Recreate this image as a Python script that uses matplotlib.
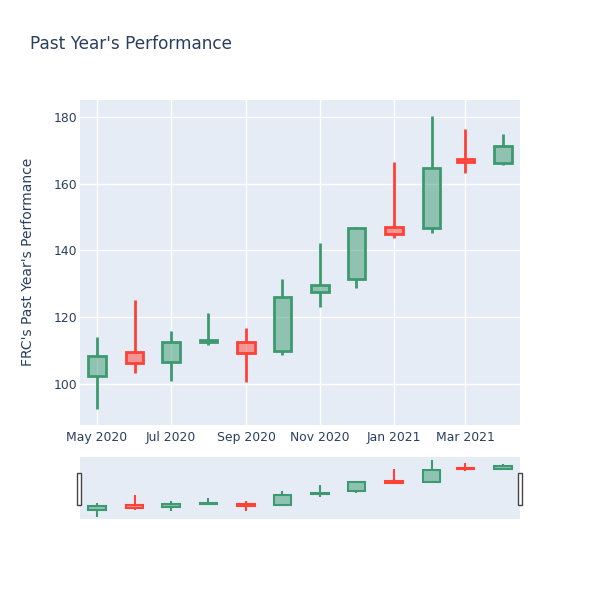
import numpy as np
import matplotlib
matplotlib.use("Agg")
from matplotlib import pyplot as plt
from matplotlib.patches import Rectangle
import matplotlib.dates as mdates
import datetime as dt

plt.rcParams['font.family'] = ['DejaVu Sans']

# monthly OHLC values
dates = ["2020-05-01", "2020-06-01", "2020-07-01", "2020-08-01", "2020-09-01", "2020-10-01",
         "2020-11-01", "2020-12-01", "2021-01-01", "2021-02-01", "2021-03-01", "2021-04-01"]
opens = [102.3, 109.6, 106.6, 112.6, 112.4, 109.9, 127.6, 131.4, 147.1, 146.6, 167.5, 166.3]
highs = [114.1, 125.1, 115.9, 121.1, 116.7, 131.5, 142.1, 147.0, 166.6, 180.3, 176.3, 174.8]
lows = [92.3, 103.1, 100.9, 111.6, 100.6, 108.6, 123.1, 128.6, 143.6, 145.1, 163.3, 165.5]
closes = [108.3, 106.1, 112.4, 113.1, 109.1, 126.1, 129.6, 146.8, 144.9, 164.6, 166.6, 171.4]

xticks = ["2020-05-01", "2020-07-01", "2020-09-01", "2020-11-01", "2021-01-01", "2021-03-01"]
xticklabels = ["May 2020", "Jul 2020", "Sep 2020", "Nov 2020", "Jan 2021", "Mar 2021"]
yticks = [100, 120, 140, 160, 180]

UP = '#3D9970'
DOWN = '#FF4136'
BG = '#E5ECF6'
TXT = '#2a3f5f'

def tonum(s):
    return mdates.date2num(dt.datetime.strptime(s, "%Y-%m-%d"))

x = np.array([tonum(d) for d in dates])
xmin, xmax = tonum("2020-04-17"), tonum("2021-04-15")


def candles(ax, lw, width=14.3):
    for xi, o, h, l, c in zip(x, opens, highs, lows, closes):
        col = UP if c >= o else DOWN
        lo, hi = min(o, c), max(o, c)
        ax.plot([xi, xi], [l, lo], color=col, lw=lw, solid_capstyle='butt', zorder=3)
        ax.plot([xi, xi], [hi, h], color=col, lw=lw, solid_capstyle='butt', zorder=3)
        ax.add_patch(Rectangle((xi - width / 2, lo), width, hi - lo,
                               facecolor=col, alpha=0.5, edgecolor='none', zorder=3))
        ax.add_patch(Rectangle((xi - width / 2, lo), width, hi - lo,
                               facecolor='none', edgecolor=col, lw=lw, zorder=4))


fig = plt.figure(figsize=(6, 6), dpi=100)

ax = fig.add_axes([80 / 600, 1 - 425 / 600, 440 / 600, 325 / 600])
ax.set_facecolor(BG)
candles(ax, 2)
ax.set_xlim(xmin, xmax)
ax.set_ylim(87.6, 185.1)
ax.set_xticks([tonum(d) for d in xticks])
ax.set_xticklabels(xticklabels)
ax.set_yticks(yticks)
ax.grid(color='white', lw=1)
ax.set_axisbelow(True)
for s in ax.spines.values():
    s.set_visible(False)
ax.tick_params(length=0, colors=TXT, labelsize=8.9)
ax.tick_params(axis='x', pad=4)
ax.tick_params(axis='y', pad=2)

# range slider
rs = fig.add_axes([80 / 600, 1 - 519 / 600, 440 / 600, 62 / 600])
rs.set_facecolor(BG)
candles(rs, 1.5)
rs.set_xlim(xmin, xmax)
rs.set_ylim(88.5, 185)
rs.set_xticks([])
rs.set_yticks([])
for s in rs.spines.values():
    s.set_visible(False)

for hx in [77, 518]:
    fig.patches.append(Rectangle((hx / 600, 1 - 505 / 600), 4 / 600, 32 / 600,
                                 transform=fig.transFigure, facecolor='white',
                                 edgecolor='#444444', lw=1))

fig.text(30 / 600, 1 - 44 / 600, "Past Year's Performance", fontsize=12.2,
         color=TXT, va='center', ha='left')
fig.text(28 / 600, 1 - 262 / 600, "FRC's Past Year's Performance", fontsize=10,
         color=TXT, va='center', ha='center', rotation=90)

fig.savefig("out.png", dpi=100)
